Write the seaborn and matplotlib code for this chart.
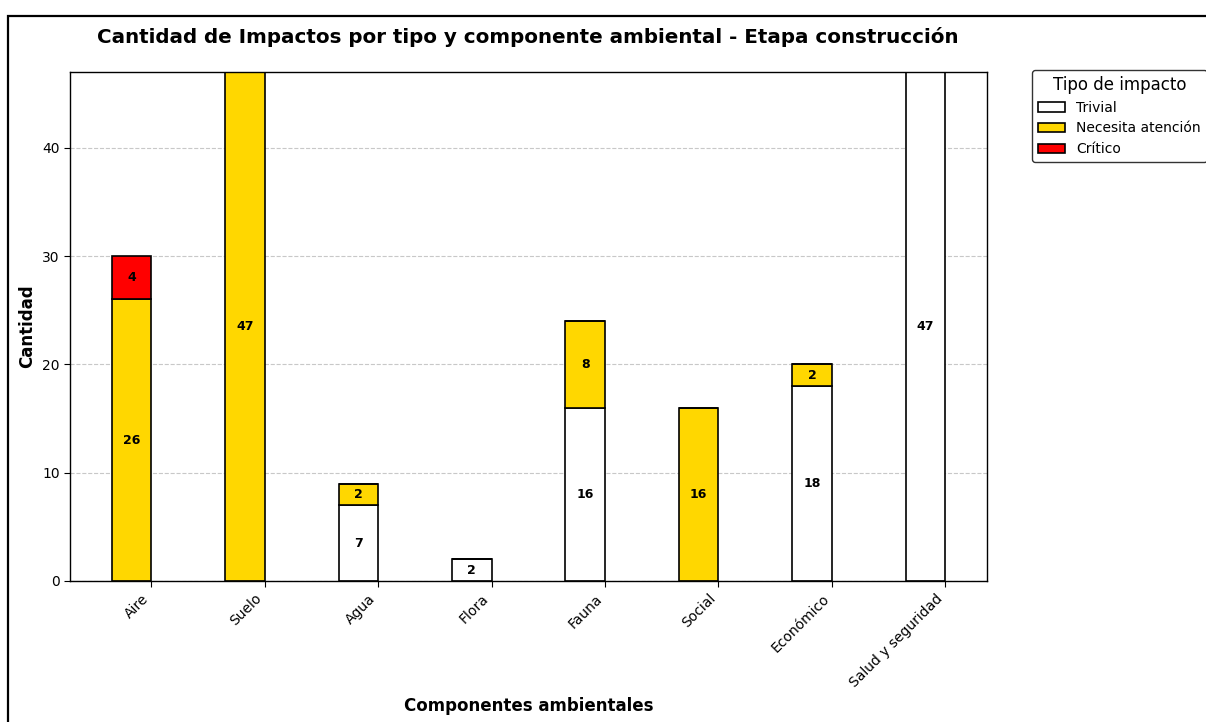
import matplotlib
matplotlib.use("Agg")
import matplotlib.pyplot as plt
from matplotlib.patches import Rectangle
import numpy as np
import pandas as pd
import seaborn as sns

categories = ["Aire", "Suelo", "Agua", "Flora", "Fauna", "Social", "Económico", "Salud y seguridad"]
trivial = [0, 0, 7, 2, 16, 0, 18, 47]
necesita = [26, 47, 2, 0, 8, 16, 2, 0]
critico = [4, 0, 0, 0, 0, 0, 0, 0]
series_names = ["Trivial", "Necesita atención", "Crítico"]
series_colors = ["white", "#FFD700", "#FF0000"]

sns.set_style("white")
plt.rcParams["font.family"] = ["DejaVu Sans"]
plt.rcParams["text.color"] = "black"
plt.rcParams["axes.labelcolor"] = "black"
plt.rcParams["xtick.color"] = "black"
plt.rcParams["ytick.color"] = "black"

W, H = 1206, 722
fig = plt.figure(figsize=(W / 100, H / 100), dpi=100)
ax = fig.add_axes([70 / W, 1 - 581 / H, (987 - 70) / W, (581 - 72) / H])

bar_w = 0.35
pos = np.arange(len(categories)) - bar_w / 2
bottom = np.zeros(len(categories))
for name, vals, col in zip(series_names, [trivial, necesita, critico], series_colors):
    df = pd.DataFrame({"x": pos, "y": vals})
    sns.barplot(data=df, x="x", y="y", native_scale=True, orient="x", width=bar_w,
                color=col, edgecolor="black", linewidth=1.2, errorbar=None,
                bottom=bottom.copy(), label=name, ax=ax, saturation=1)
    cont = ax.containers[-1]
    ax.bar_label(cont, labels=[str(v) if v > 0 else "" for v in vals],
                 label_type="center", fontsize=9, fontweight="bold", color="black")
    bottom = bottom + np.array(vals)

ax.set_xticks(np.arange(len(categories)))
ax.set_xticklabels(categories, rotation=45, ha="right", fontsize=10)
ax.tick_params(axis="x", bottom=True, length=4, color="black")
ax.tick_params(axis="y", left=True, length=4, color="black", labelsize=10)
ax.set_ylim(0, 47)
ax.set_yticks([0, 10, 20, 30, 40])
ax.yaxis.grid(True, linestyle="--", color="#c8c8c8", linewidth=0.8)
ax.set_axisbelow(True)
for s in ax.spines.values():
    s.set_color("black")
    s.set_linewidth(1.0)

ax.set_xlabel("Componentes ambientales", fontsize=12, fontweight="bold")
ax.xaxis.set_label_coords(0.5, -0.228)
ax.set_ylabel("Cantidad", fontsize=12, fontweight="bold")
fig.text(528 / W, 1 - 37 / H, "Cantidad de Impactos por tipo y componente ambiental - Etapa construcción",
         ha="center", va="center", fontsize=14.3, fontweight="bold")

leg = ax.legend(title="Tipo de impacto", loc="upper left",
                bbox_to_anchor=(1032 / W, 1 - 70 / H), bbox_transform=fig.transFigure,
                borderaxespad=0, fontsize=10, title_fontsize=12, frameon=True,
                fancybox=True, edgecolor="black")

fig.patches.append(Rectangle((8 / W, -0.1), 1.2, (H - 16) / H + 0.1, transform=fig.transFigure,
                             fill=False, edgecolor="black", linewidth=1.6, figure=fig))

fig.savefig("out.png", dpi=100, facecolor="white")
